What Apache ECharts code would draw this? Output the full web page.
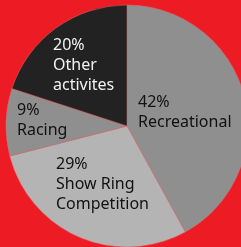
<!DOCTYPE html>
<html>
<head>
<meta charset="utf-8">
<script src="https://cdn.jsdelivr.net/npm/echarts@6/dist/echarts.min.js"></script>
<style>
  html, body { margin: 0; padding: 0; background: #ed1c24; }
  #chart { width: 241px; height: 247px; }
</style>
</head>
<body>
<div id="chart"></div>
<script>
const categories = ['Recreational', 'Show Ring\nCompetition', 'Racing', 'Other\nactivites']
const values = [42, 29, 9, 20]

const colors = ['#8f8f8f', '#b4b4b4', '#8f8f8f', '#222222']
const textColors = ['#111', '#111', '#111', '#f2f2f2']
// label block left/centre positions (px)
const labelPos = [[138, 112], [56, 184], [17, 120], [53, 65]]

const myChart = echarts.init(document.getElementById('chart'))

const option = {
    backgroundColor: '#ed1c24',
    animation: false,
    series: [{
        type: 'pie',
        center: [127, 126],
        radius: 121,
        startAngle: 90,
        clockwise: true,
        silent: true,
        itemStyle: {
            borderColor: '#d86a6a',
            borderWidth: 0.5
        },
        label: {
            position: 'inside',
            formatter: p => p.value + '%\n' + p.name,
            fontFamily: 'Noto Sans',
            fontSize: 16,
            lineHeight: 20,
            align: 'left'
        },
        labelLine: { show: false },
        labelLayout: p => ({
            x: labelPos[p.dataIndex][0],
            y: labelPos[p.dataIndex][1],
            align: 'left',
            verticalAlign: 'middle'
        }),
        data: categories.map((c, i) => ({
            name: c,
            value: values[i],
            itemStyle: { color: colors[i] },
            label: { color: textColors[i] }
        }))
    }]
}

myChart.setOption(option)
</script>
</body>
</html>
